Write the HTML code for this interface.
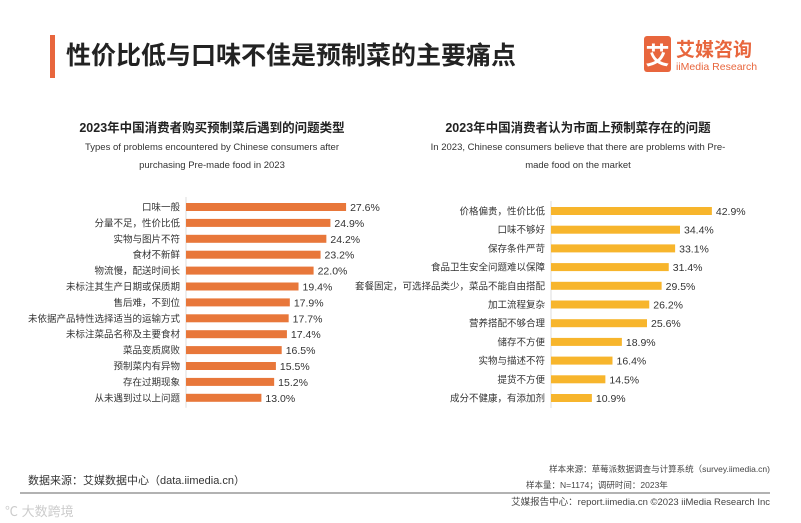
<!DOCTYPE html>
<html><head><meta charset="utf-8">
<style>
body{margin:0;width:801px;height:523px;background:#fff;overflow:hidden;font-family:"Liberation Sans","Noto Sans CJK SC",sans-serif;}
svg{display:block}
</style></head>
<body>
<svg width="801" height="523" xmlns="http://www.w3.org/2000/svg" font-family="Liberation Sans, Noto Sans CJK SC, sans-serif">
<rect x="50" y="35" width="5" height="43" fill="#e8663d"/>
<text x="66" y="64" font-size="25" font-weight="bold" fill="#222">性价比低与口味不佳是预制菜的主要痛点</text>
<g>
<rect x="644" y="36" width="27" height="36" rx="3" fill="#e8663d"/>
<text x="657.5" y="64" font-size="24" font-weight="bold" fill="#fff" text-anchor="middle">艾</text>
<text x="676" y="56" font-size="19" font-weight="bold" fill="#e8663d">艾媒咨询</text>
<text x="676" y="70" font-size="10.5" fill="#e8663d">iiMedia Research</text>
</g>
<g>
<text x="212" y="132" font-size="12.5" font-weight="bold" fill="#222" text-anchor="middle">2023年中国消费者购买预制菜后遇到的问题类型</text>
<text x="212" y="150" font-size="9.5" fill="#333" text-anchor="middle">Types of problems encountered by Chinese consumers after</text>
<text x="212" y="168" font-size="9.5" fill="#333" text-anchor="middle">purchasing Pre-made food in 2023</text>
</g>
<g>
<text x="578" y="132" font-size="12.5" font-weight="bold" fill="#222" text-anchor="middle">2023年中国消费者认为市面上预制菜存在的问题</text>
<text x="578" y="150" font-size="9.5" fill="#333" text-anchor="middle">In 2023, Chinese consumers believe that there are problems with Pre-</text>
<text x="578" y="168" font-size="9.5" fill="#333" text-anchor="middle">made food on the market</text>
</g>
<g id="left"></g>
<g id="right"></g>
<text x="28" y="484" font-size="11" fill="#333">数据来源：艾媒数据中心（data.iimedia.cn）</text>
<text x="770" y="472" font-size="8.5" fill="#444" text-anchor="end">样本来源：草莓派数据调查与计算系统（survey.iimedia.cn)</text>
<text x="526" y="488" font-size="8.5" fill="#444">样本量：N=1174；调研时间：2023年</text>
<line x1="20" y1="493" x2="770" y2="493" stroke="#666" stroke-width="1"/>
<text x="770" y="505" font-size="9.5" fill="#444" text-anchor="end">艾媒报告中心：report.iimedia.cn  ©2023  iiMedia Research  Inc</text>
<text x="5" y="516" font-size="13" fill="#ccc">℃ 大数跨境</text>
</svg>
<script>
const leftCats=["口味一般","分量不足，性价比低","实物与图片不符","食材不新鲜","物流慢，配送时间长","未标注其生产日期或保质期","售后难，不到位","未依据产品特性选择适当的运输方式","未标注菜品名称及主要食材","菜品变质腐败","预制菜内有异物","存在过期现象","从未遇到过以上问题"];
const leftVals=[27.6,24.9,24.2,23.2,22.0,19.4,17.9,17.7,17.4,16.5,15.5,15.2,13.0];
const rightCats=["价格偏贵，性价比低","口味不够好","保存条件严苛","食品卫生安全问题难以保障","套餐固定，可选择品类少，菜品不能自由搭配","加工流程复杂","营养搭配不够合理","储存不方便","实物与描述不符","提货不方便","成分不健康，有添加剂"];
const rightVals=[42.9,34.4,33.1,31.4,29.5,26.2,25.6,18.9,16.4,14.5,10.9];
const NS="http://www.w3.org/2000/svg";
function draw(gid,cats,vals,x0,pxPer,y0,step,color,prefix){
  const g=document.getElementById(gid);
  const ax=document.createElementNS(NS,"line");
  ax.setAttribute("x1",x0);ax.setAttribute("x2",x0);
  ax.setAttribute("y1",y0-10);ax.setAttribute("y2",y0+step*(cats.length-1)+10);
  ax.setAttribute("stroke","#ddd");
  
  
  g.appendChild(ax);
  cats.forEach((c,i)=>{
    const y=y0+i*step;
    const w=vals[i]*pxPer;
    const r=document.createElementNS(NS,"rect");
    r.setAttribute("x",x0);r.setAttribute("y",y-4);r.setAttribute("width",w);r.setAttribute("height",8);r.setAttribute("fill",color);
    
    
    g.appendChild(r);
    const t=document.createElementNS(NS,"text");
    t.setAttribute("x",x0-6);t.setAttribute("y",y+3.5);t.setAttribute("font-size","9.5");t.setAttribute("fill","#333");t.setAttribute("text-anchor","end");
    t.textContent=c;
    
    
    g.appendChild(t);
    const v=document.createElementNS(NS,"text");
    v.setAttribute("x",x0+w+4);v.setAttribute("y",y+4);v.setAttribute("font-size","10.5");v.setAttribute("fill","#333");
    v.textContent=vals[i].toFixed(1)+"%";
    
    
    g.appendChild(v);
  });
}
draw("left",leftCats,leftVals,186,5.8,207,15.9,"#e8773a","left");
draw("right",rightCats,rightVals,551,3.75,211,18.7,"#f7b52c","right");
</script>
</body></html>
